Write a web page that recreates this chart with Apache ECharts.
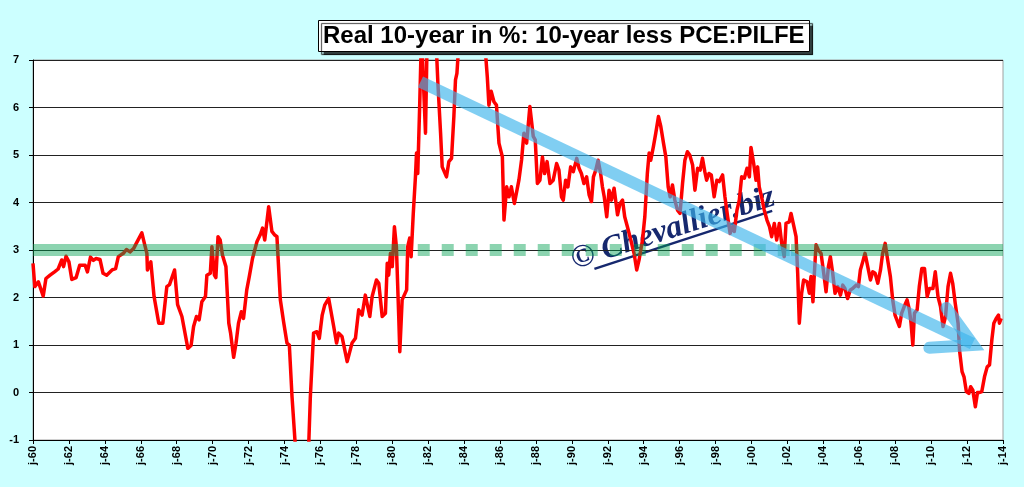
<!DOCTYPE html>
<html>
<head>
<meta charset="utf-8">
<title>Real 10-year in %</title>
<script src="https://cdn.jsdelivr.net/npm/echarts@6/dist/echarts.min.js"></script>
<style>
  html, body { margin: 0; padding: 0; background: #ccffff; }
  #chart { width: 1024px; height: 487px; }
</style>
</head>
<body>
<div id="chart"></div>
<script>
// Real 10-year yield less core PCE inflation (decimal years)
const dates = [
  1960.0, 1960.1, 1960.3, 1960.57, 1960.72, 1960.95, 1961.2, 1961.4, 1961.6, 1961.7,
  1961.84, 1962.0, 1962.16, 1962.4, 1962.6, 1962.9, 1963.03, 1963.2, 1963.36, 1963.5,
  1963.73, 1963.9, 1964.1, 1964.4, 1964.6, 1964.75, 1965.03, 1965.2, 1965.4, 1965.6,
  1965.75, 1966.06, 1966.2, 1966.34, 1966.37, 1966.56, 1966.74, 1967.0, 1967.23, 1967.45,
  1967.6, 1967.88, 1968.05, 1968.29, 1968.62, 1968.8, 1968.94, 1969.1, 1969.25, 1969.4,
  1969.6, 1969.68, 1969.87, 1969.96, 1970.1, 1970.18, 1970.3, 1970.42, 1970.55, 1970.74,
  1970.9, 1971.0, 1971.17, 1971.3, 1971.44, 1971.6, 1971.72, 1971.9, 1972.04, 1972.22,
  1972.47, 1972.65, 1972.78, 1972.9, 1973.12, 1973.3, 1973.45, 1973.58, 1973.77, 1973.95,
  1974.14, 1974.27, 1974.42, 1974.6, 1974.8, 1975.0, 1975.2, 1975.35, 1975.44, 1975.62,
  1975.8, 1975.94, 1976.1, 1976.24, 1976.46, 1976.55, 1976.74, 1976.9, 1977.02, 1977.2,
  1977.49, 1977.76, 1977.95, 1978.13, 1978.32, 1978.5, 1978.75, 1978.88, 1979.12, 1979.25,
  1979.44, 1979.62, 1979.72, 1979.8, 1979.9, 1980.0, 1980.12, 1980.23, 1980.36, 1980.42,
  1980.55, 1980.8, 1980.86, 1980.97, 1981.05, 1981.17, 1981.29, 1981.35, 1981.42, 1981.53,
  1981.63, 1981.76, 1981.85, 1981.94, 1982.1, 1982.3, 1982.45, 1982.54, 1982.69, 1982.78,
  1983.02, 1983.15, 1983.3, 1983.43, 1983.52, 1983.6, 1983.75, 1984.0, 1984.3, 1984.6,
  1984.9, 1985.2, 1985.29, 1985.38, 1985.51, 1985.66, 1985.8, 1985.94, 1986.13, 1986.22,
  1986.37, 1986.5, 1986.63, 1986.8, 1987.05, 1987.2, 1987.33, 1987.48, 1987.66, 1987.74,
  1987.85, 1987.96, 1988.08, 1988.22, 1988.36, 1988.48, 1988.62, 1988.78, 1988.96, 1989.15,
  1989.28, 1989.42, 1989.52, 1989.65, 1989.78, 1989.93, 1990.08, 1990.27, 1990.4, 1990.53,
  1990.67, 1990.82, 1990.96, 1991.09, 1991.2, 1991.33, 1991.46, 1991.6, 1991.7, 1991.8,
  1991.94, 1992.07, 1992.2, 1992.35, 1992.54, 1992.68, 1992.82, 1992.94, 1993.09, 1993.28,
  1993.46, 1993.61, 1993.74, 1993.93, 1994.06, 1994.2, 1994.3, 1994.39, 1994.54, 1994.67,
  1994.82, 1994.95, 1995.1, 1995.23, 1995.36, 1995.47, 1995.6, 1995.73, 1995.88, 1996.02,
  1996.16, 1996.29, 1996.43, 1996.56, 1996.72, 1996.85, 1997.0, 1997.14, 1997.27, 1997.4,
  1997.5, 1997.63, 1997.76, 1997.92, 1998.07, 1998.2, 1998.39, 1998.52, 1998.67, 1998.81,
  1998.94, 1999.04, 1999.19, 1999.32, 1999.45, 1999.6, 1999.75, 1999.88, 1999.97, 2000.12,
  2000.25, 2000.34, 2000.43, 2000.56, 2000.71, 2000.86, 2001.0, 2001.12, 2001.27, 2001.4,
  2001.55, 2001.68, 2001.82, 2001.92, 2002.1, 2002.2, 2002.34, 2002.48, 2002.57, 2002.66,
  2002.79, 2002.9, 2003.09, 2003.22, 2003.31, 2003.42, 2003.5, 2003.59, 2003.72, 2003.87,
  2004.02, 2004.15, 2004.28, 2004.39, 2004.52, 2004.65, 2004.8, 2004.95, 2005.08, 2005.2,
  2005.35, 2005.5, 2005.63, 2005.82, 2005.95, 2006.06, 2006.19, 2006.32, 2006.47, 2006.62,
  2006.75, 2006.88, 2007.03, 2007.18, 2007.3, 2007.44, 2007.58, 2007.73, 2007.86, 2007.99,
  2008.1, 2008.23, 2008.36, 2008.5, 2008.66, 2008.79, 2008.88, 2008.98, 2009.07, 2009.22,
  2009.34, 2009.48, 2009.63, 2009.78, 2009.91, 2010.1, 2010.23, 2010.38, 2010.52, 2010.66,
  2010.8, 2010.94, 2011.08, 2011.2, 2011.34, 2011.5, 2011.58, 2011.72, 2011.83, 2011.96,
  2012.1, 2012.2, 2012.32, 2012.46, 2012.58, 2012.7, 2012.82, 2012.97, 2013.12, 2013.25,
  2013.38, 2013.49, 2013.62, 2013.75, 2013.8, 2013.9
];
const realYield = [
  2.72, 2.23, 2.33, 2.03, 2.40, 2.47, 2.54, 2.60, 2.79, 2.65,
  2.87, 2.75, 2.38, 2.42, 2.68, 2.68, 2.54, 2.85, 2.78, 2.82,
  2.80, 2.51, 2.47, 2.58, 2.61, 2.86, 2.93, 3.01, 2.96, 3.03,
  3.14, 3.36, 3.14, 2.93, 2.58, 2.75, 2.02, 1.46, 1.46, 2.23,
  2.27, 2.58, 1.85, 1.60, 0.93, 0.99, 1.39, 1.60, 1.53, 1.91,
  2.02, 2.47, 2.51, 3.07, 2.47, 2.42, 3.28, 3.21, 2.89, 2.65,
  1.46, 1.25, 0.74, 1.03, 1.46, 1.70, 1.56, 2.16, 2.44, 2.82,
  3.18, 3.32, 3.46, 3.21, 3.91, 3.39, 3.32, 3.28, 1.95, 1.49,
  1.04, 1.00, -0.09, -1.10, -1.80, -2.20, -1.70, -1.10, -0.09, 1.25,
  1.28, 1.14, 1.63, 1.84, 1.98, 1.95, 1.39, 1.04, 1.25, 1.18,
  0.65, 1.04, 1.14, 1.74, 1.63, 2.05, 1.60, 2.02, 2.37, 2.30,
  1.60, 1.67, 2.72, 2.47, 2.93, 2.65, 3.49, 3.07, 1.60, 0.86,
  1.95, 2.16, 3.07, 3.25, 2.86, 3.77, 4.54, 5.04, 4.61, 6.09,
  7.60, 6.30, 5.46, 7.40, 8.20, 8.00, 7.30, 6.51, 5.46, 4.75,
  4.54, 4.86, 4.93, 5.81, 6.58, 6.72, 7.60, 8.40, 8.80, 8.30,
  7.80, 7.10, 6.65, 6.05, 6.34, 6.12, 6.05, 5.25, 4.96, 3.63,
  4.33, 4.12, 4.33, 3.98, 4.47, 4.90, 5.46, 5.25, 6.02, 6.05,
  5.39, 5.32, 4.40, 4.47, 4.96, 4.61, 4.86, 4.40, 4.47, 4.82,
  4.68, 4.12, 4.05, 4.47, 4.33, 4.75, 4.65, 4.93, 4.72, 4.61,
  4.40, 4.54, 4.16, 4.02, 4.54, 4.68, 4.89, 4.61, 4.33, 4.12,
  3.70, 4.26, 4.05, 4.30, 3.74, 3.98, 4.05, 3.70, 3.49, 3.21,
  2.93, 2.58, 2.79, 3.21, 3.70, 4.61, 5.04, 4.89, 5.18, 5.46,
  5.81, 5.60, 5.25, 4.96, 4.33, 4.12, 4.37, 4.05, 3.84, 3.77,
  4.40, 4.89, 5.07, 5.00, 4.79, 4.26, 4.72, 4.68, 4.93, 4.65,
  4.47, 4.61, 4.58, 4.12, 4.47, 4.44, 4.58, 4.12, 3.70, 3.35,
  3.49, 3.39, 3.84, 4.05, 4.54, 4.51, 4.72, 4.54, 5.16, 4.82,
  4.47, 4.75, 4.33, 4.12, 3.84, 3.63, 3.49, 3.28, 3.56, 3.21,
  3.56, 3.14, 2.86, 3.56, 3.59, 3.77, 3.53, 3.28, 2.51, 1.46,
  2.09, 2.37, 2.33, 2.09, 2.44, 1.91, 2.51, 3.11, 3.00, 2.93,
  2.51, 2.12, 2.65, 2.86, 2.51, 2.09, 2.23, 2.05, 2.26, 2.19,
  1.98, 2.16, 2.19, 2.26, 2.23, 2.58, 2.75, 2.93, 2.65, 2.37,
  2.54, 2.51, 2.30, 2.58, 2.93, 3.14, 2.79, 2.44, 1.95, 1.63,
  1.67, 1.39, 1.67, 1.81, 1.95, 1.74, 1.46, 1.00, 1.67, 1.74,
  2.23, 2.61, 2.61, 2.02, 2.19, 2.19, 2.54, 2.02, 1.81, 1.39,
  1.60, 2.23, 2.51, 2.30, 1.88, 1.46, 0.89, 0.44, 0.33, 0.02,
  -0.02, 0.12, 0.05, -0.30, 0.00, 0.00, 0.02, 0.33, 0.54, 0.58,
  1.11, 1.46, 1.56, 1.63, 1.46, 1.56
];

// 3% reference band: solid, dashed, solid pieces [start, end]
const bandLevel = 3;
const bandSolidLeft = [1960, 1980.75];
const bandDashed = [1980.75, 2002.2];
const bandSolidRight = [2002.2, 2014];

// Trend arrow: shaft and head (year, value)
const arrowShaft = [[1981.57, 6.54], [2012.3, 1.03]];
const arrowHead = [[2010.85, 1.78], [2012.34, 1.0], [2009.9, 0.94]];

// Axis ticks
const yMin = -1, yMax = 7, yStep = 1;
const xMin = 1960, xMax = 2014, xStep = 2;

const chart = echarts.init(document.getElementById('chart'), null, { renderer: 'canvas' });

const bandStyle = { color: 'rgba(0, 160, 80, 0.45)', width: 12 };
const arrowColor = 'rgba(60, 180, 235, 0.65)';

const option = {
    backgroundColor: '#ccffff',
    animation: false,
    title: {
        text: 'Real 10-year in %: 10-year less PCE:PILFE',
        left: 318,
        top: 20,
        padding: [3, 5, 3, 5],
        backgroundColor: '#fff',
        borderColor: '#000',
        borderWidth: 1,
        shadowColor: 'rgba(0,0,0,0.75)',
        shadowOffsetX: 3,
        shadowOffsetY: 3,
        shadowBlur: 1,
        textStyle: {
            fontFamily: 'Liberation Sans',
            fontWeight: 'bold',
            fontSize: 24,
            lineHeight: 26,
            color: '#000'
        }
    },
    grid: {
        left: 33,
        right: 21,
        top: 60,
        bottom: 47,
        show: true,
        backgroundColor: '#fff',
        borderColor: '#a0a0a0',
        borderWidth: 1
    },
    xAxis: {
        type: 'value',
        min: xMin,
        max: xMax,
        interval: xStep,
        axisLine: { show: true, onZero: false, lineStyle: { color: '#000', width: 1 } },
        axisTick: { show: true, length: 4, lineStyle: { color: '#000' } },
        splitLine: { show: false },
        axisLabel: {
            rotate: 90,
            margin: 6,
            color: '#000',
            fontFamily: 'Liberation Sans',
            fontWeight: 'bold',
            fontSize: 11,
            formatter: (v) => 'j-' + String(Math.round(v) % 100).padStart(2, '0')
        }
    },
    yAxis: {
        type: 'value',
        min: yMin,
        max: yMax,
        interval: yStep,
        axisLine: { show: true, onZero: false, lineStyle: { color: '#000', width: 1 } },
        axisTick: { show: true, length: 4, lineStyle: { color: '#000' } },
        splitLine: { show: true, lineStyle: { color: '#222', width: 1 } },
        axisLabel: {
            margin: 14,
            color: '#000',
            fontFamily: 'Liberation Sans',
            fontWeight: 'bold',
            fontSize: 11
        }
    },
    series: [
        {
            name: 'Real 10-year',
            type: 'line',
            data: dates.map((d, i) => [d, realYield[i]]),
            showSymbol: false,
            clip: true,
            lineStyle: { color: '#ff0000', width: 3.5, join: 'round' },
            z: 2
        },
        {
            type: 'line',
            data: bandSolidLeft.map(d => [d, bandLevel]),
            showSymbol: false,
            lineStyle: Object.assign({ cap: 'butt' }, bandStyle),
            z: 3
        },
        {
            type: 'line',
            data: bandDashed.map(d => [d, bandLevel]),
            showSymbol: false,
            lineStyle: Object.assign({ type: [12, 12], dashOffset: -12 }, bandStyle),
            z: 3
        },
        {
            type: 'line',
            data: bandSolidRight.map(d => [d, bandLevel]),
            showSymbol: false,
            lineStyle: Object.assign({ cap: 'butt' }, bandStyle),
            z: 3
        },
        {
            type: 'line',
            data: arrowShaft,
            showSymbol: false,
            lineStyle: { color: arrowColor, width: 12, cap: 'butt' },
            z: 4
        },
        {
            type: 'line',
            data: arrowHead,
            showSymbol: false,
            lineStyle: { color: arrowColor, width: 12, cap: 'round', join: 'miter' },
            z: 4
        }
    ],
    graphic: [
        {
            type: 'group',
            x: 673,
            y: 229,
            rotation: 0.31,
            z: 10,
            children: [
                {
                    type: 'text',
                    x: 0,
                    y: 0,
                    style: {
                        text: '\u00a9 Chevallier.biz',
                        fontFamily: 'Liberation Serif',
                        fontStyle: 'italic',
                        fontWeight: 'bold',
                        fontSize: 32,
                        fill: '#16286e',
                        textAlign: 'center',
                        textVerticalAlign: 'middle'
                    }
                },
                {
                    type: 'line',
                    shape: { x1: -87, y1: 14, x2: 100, y2: 13 },
                    style: { stroke: '#16286e', lineWidth: 2.5 }
                }
            ]
        }
    ]
};

chart.setOption(option);
</script>
</body>
</html>
